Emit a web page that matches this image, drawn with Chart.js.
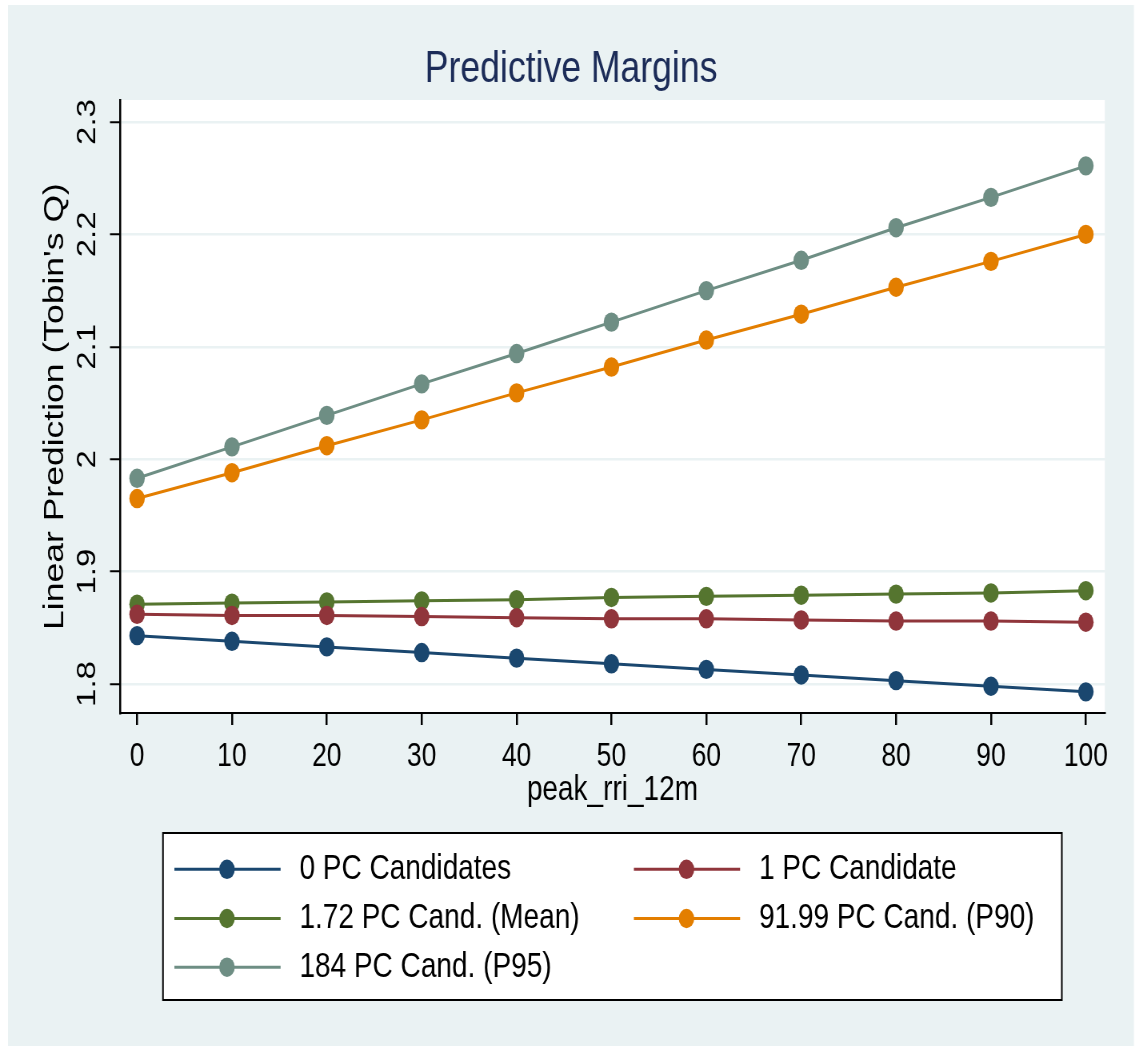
<!DOCTYPE html>
<html>
<head>
<meta charset="utf-8">
<title>Predictive Margins</title>
<script src="https://cdn.jsdelivr.net/npm/chart.js@4.4.1/dist/chart.umd.min.js"></script>
<style>
  html, body { margin: 0; padding: 0; overflow: hidden; background: #fff; }
  /* Stata export is squeezed horizontally, so draw wide and scale down */
  #wrap { width: 1419px; height: 1046px; transform: scaleX(0.79986); transform-origin: 0 0; }
</style>
</head>
<body>
<div id="wrap"><canvas id="margins-chart"></canvas></div>
<script>
// x values (peak_rri_12m) and axis ticks
const xValues = [0, 10, 20, 30, 40, 50, 60, 70, 80, 90, 100];
const xTickLabels = ['0', '10', '20', '30', '40', '50', '60', '70', '80', '90', '100'];
const yTickValues = [1.8, 1.9, 2.0, 2.1, 2.2, 2.3];
const yTickLabels = ['1.8', '1.9', '2', '2.1', '2.2', '2.3'];

// predicted Tobin's Q
const pc0 = [1.843, 1.838, 1.833, 1.828, 1.823, 1.818, 1.813, 1.808, 1.803, 1.798, 1.793];
const pc1 = [1.862, 1.861, 1.861, 1.860, 1.859, 1.858, 1.858, 1.857, 1.856, 1.856, 1.855];
const pcMean = [1.871, 1.872, 1.873, 1.874, 1.875, 1.877, 1.878, 1.879, 1.880, 1.881, 1.883];
const pcP90 = [1.965, 1.988, 2.012, 2.035, 2.059, 2.082, 2.106, 2.129, 2.153, 2.176, 2.200];
const pcP95 = [1.983, 2.011, 2.039, 2.067, 2.094, 2.122, 2.150, 2.177, 2.206, 2.233, 2.261];

const seriesLabels = ['0 PC Candidates', '1 PC Candidate', '1.72 PC Cand. (Mean)',
                      '91.99 PC Cand. (P90)', '184 PC Cand. (P95)'];
const seriesColors = ['#1A476F', '#90353B', '#55752F', '#E37E00', '#6E8E84'];
const seriesValues = [pc0, pc1, pcMean, pcP90, pcP95];

const FONT = "'Liberation Sans', Arial, sans-serif";
const BG = '#EAF2F3';

Chart.defaults.font.family = FONT;
Chart.defaults.color = '#000';

// graph region + white plot region
const backgroundPlugin = {
  id: 'stataBackground',
  beforeDraw(chart) {
    const { ctx, width, height, chartArea } = chart;
    ctx.save();
    ctx.fillStyle = '#fff';
    ctx.fillRect(0, 0, width, height);
    ctx.fillStyle = BG;
    ctx.fillRect(10, 5, 1407.5, height - 5);
    ctx.fillStyle = '#fff';
    ctx.fillRect(chartArea.left, chartArea.top, chartArea.right - chartArea.left, chartArea.bottom - chartArea.top);
    ctx.restore();
  }
};

// boxed two-column legend like Stata's
const boxLegendPlugin = {
  id: 'boxLegend',
  afterDraw(chart) {
    const ctx = chart.ctx;
    const colX = [218, 792.5];
    const rowY = [869.3, 918.5, 967.2];
    ctx.save();
    ctx.fillStyle = '#fff';
    ctx.fillRect(203.75, 833, 1123.75, 167);
    ctx.strokeStyle = '#000';
    ctx.lineWidth = 2;
    ctx.strokeRect(203.75, 833, 1123.75, 167);

    chart.data.datasets.forEach((ds, i) => {
      const x = colX[i % 2];
      const y = rowY[Math.floor(i / 2)];
      ctx.strokeStyle = ds.borderColor;
      ctx.lineWidth = 3;
      ctx.beginPath();
      ctx.moveTo(x, y);
      ctx.lineTo(x + 132.75, y);
      ctx.stroke();
      ctx.fillStyle = ds.borderColor;
      ctx.beginPath();
      ctx.arc(x + 65.75, y, 9.7, 0, Math.PI * 2);
      ctx.fill();
      ctx.fillStyle = '#000';
      ctx.font = '35px ' + FONT;
      ctx.textAlign = 'left';
      ctx.textBaseline = 'middle';
      ctx.fillText(ds.label, x + 156.4, y);
    });
    ctx.restore();
  }
};

const ctx = document.getElementById('margins-chart').getContext('2d');

new Chart(ctx, {
  type: 'line',
  data: {
    datasets: seriesValues.map((vals, i) => ({
      label: seriesLabels[i],
      data: xValues.map((x, j) => ({ x: x, y: vals[j] })),
      borderColor: seriesColors[i],
      backgroundColor: seriesColors[i],
      pointBackgroundColor: seriesColors[i],
      pointBorderWidth: 0,
      pointRadius: 9.7,
      borderWidth: 3,
      tension: 0,
      fill: false
    }))
  },
  options: {
    responsive: true,
    maintainAspectRatio: false,
    animation: false,
    devicePixelRatio: 1,
    // left padding keeps the title centred on the whole graph region
    layout: { padding: { left: 46.75, right: 37.75, top: 0, bottom: 234.4 } },
    plugins: {
      legend: { display: false },
      tooltip: { enabled: false },
      title: {
        display: true,
        text: 'Predictive Margins',
        color: '#1C2C58',
        font: { size: 44.5, weight: 'normal', lineHeight: 1.2 },
        padding: { top: 43.5, bottom: 3.1 }
      }
    },
    scales: {
      x: {
        type: 'linear',
        min: -1.8,
        max: 102,
        afterBuildTicks: s => { s.ticks = xValues.map(v => ({ value: v })); },
        afterFit: s => { s.height = 98.6; },
        grid: {
          drawOnChartArea: false,
          drawTicks: true,
          tickLength: 12,
          tickColor: '#000',
          tickWidth: 2.5,
          lineWidth: 2.5
        },
        border: { display: true, color: '#000', width: 2 },
        ticks: {
          color: '#000',
          font: { size: 33 },
          padding: 11.8,
          maxRotation: 0,
          callback: (v, i) => xTickLabels[i]
        },
        title: {
          display: true,
          text: 'peak_rri_12m',
          color: '#000',
          font: { size: 35, lineHeight: 1.2 },
          padding: { top: 0, bottom: 0 }
        }
      },
      y: {
        min: 1.7742,
        max: 2.3196,
        afterBuildTicks: s => { s.ticks = yTickValues.map(v => ({ value: v })); },
        afterFit: s => { s.width = 103.25; },
        grid: {
          color: BG,
          lineWidth: 2.5,
          tickLength: 12.5,
          tickColor: '#000',
          tickWidth: 2
        },
        border: { display: true, color: '#000', width: 2.5 },
        ticks: {
          color: '#000',
          font: { size: 33 },
          padding: 4.6,
          minRotation: 90,
          maxRotation: 90,
          crossAlign: 'center',
          callback: (v, i) => yTickLabels[i]
        },
        title: {
          display: true,
          text: "Linear Prediction (Tobin's Q)",
          color: '#000',
          font: { size: 35.5, lineHeight: 1.2 },
          padding: { top: 1, bottom: 0 }
        }
      }
    }
  },
  plugins: [backgroundPlugin, boxLegendPlugin]
});
</script>
</body>
</html>
